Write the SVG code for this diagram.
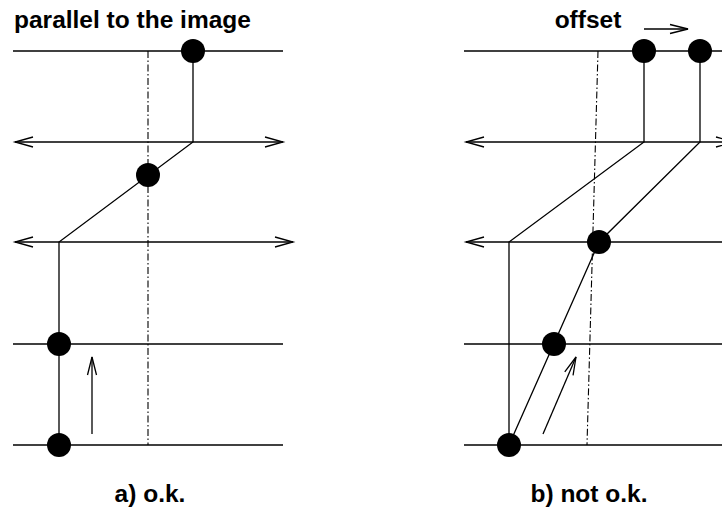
<svg xmlns="http://www.w3.org/2000/svg" width="722" height="508" viewBox="0 0 722 508">
<defs>
<style>
.ln{stroke:#000;stroke-width:1.3;fill:none}
.dd{stroke:#000;stroke-width:1.1;fill:none;stroke-dasharray:7 2.5 1.5 2.5}
.dot{fill:#000}
.lbl{font-family:"Liberation Sans",Arial,sans-serif;font-weight:bold;font-size:24.5px;fill:#000}
</style>
<marker id="ah" markerUnits="userSpaceOnUse" markerWidth="24" markerHeight="14" viewBox="-20 -7 24 14" refX="0" refY="0" orient="auto-start-reverse" overflow="visible">
<path d="M-18,-5 L0,0 L-18,5" fill="none" stroke="#000" stroke-width="1.3"/>
</marker>
<marker id="ah2" markerUnits="userSpaceOnUse" markerWidth="24" markerHeight="14" viewBox="-20 -7 24 14" refX="0" refY="0" orient="auto" overflow="visible">
<path d="M-18,-4.5 L0,0 L-18,4.5" fill="none" stroke="#000" stroke-width="1.3"/>
</marker>
</defs>
<rect width="722" height="508" fill="#fff"/>
<g id="labels">
<text class="lbl" x="14" y="28">parallel to the image</text>
<text class="lbl" x="588" y="28" text-anchor="middle">offset</text>
<text class="lbl" x="150" y="502" text-anchor="middle">a) o.k.</text>
<text class="lbl" x="589" y="502" text-anchor="middle">b) not o.k.</text>
</g>
<g id="connectors">
<!-- panel a -->
<line class="ln" x1="13" y1="51" x2="283" y2="51"/>
<line class="ln" x1="15" y1="142" x2="283" y2="142" marker-start="url(#ah)" marker-end="url(#ah)"/>
<line class="ln" x1="15" y1="242" x2="293" y2="242" marker-start="url(#ah)" marker-end="url(#ah)"/>
<line class="ln" x1="13" y1="344" x2="283" y2="344"/>
<line class="ln" x1="13" y1="445" x2="283" y2="445"/>
<line class="dd" x1="148" y1="51" x2="148" y2="445"/>
<polyline class="ln" points="193,51 193,142 59,242 59,445"/>
<line class="ln" x1="92" y1="434" x2="92" y2="357" marker-end="url(#ah2)"/>
<!-- panel b -->
<line class="ln" x1="464" y1="51" x2="734" y2="51"/>
<line class="ln" x1="466" y1="142" x2="734" y2="142" marker-start="url(#ah)" marker-end="url(#ah)"/>
<line class="ln" x1="466" y1="242" x2="744" y2="242" marker-start="url(#ah)" marker-end="url(#ah)"/>
<line class="ln" x1="464" y1="344" x2="734" y2="344"/>
<line class="ln" x1="464" y1="445" x2="734" y2="445"/>
<line class="dd" x1="598" y1="51" x2="587" y2="445"/>
<polyline class="ln" points="644,51 644,142 509,242 509,445"/>
<polyline class="ln" points="700,51 700,142 599,242 509,445"/>
<line class="ln" x1="543" y1="434" x2="576" y2="357" marker-end="url(#ah2)"/>
<line class="ln" x1="644" y1="29" x2="688" y2="29" marker-end="url(#ah2)"/>
</g>
<g id="node-a1"><circle class="dot" cx="193" cy="51" r="12"/></g>
<g id="node-a2"><circle class="dot" cx="148" cy="175" r="12"/></g>
<g id="node-a3"><circle class="dot" cx="59" cy="344" r="12"/></g>
<g id="node-a4"><circle class="dot" cx="59" cy="445" r="12"/></g>
<g id="node-b1"><circle class="dot" cx="644" cy="51" r="12"/></g>
<g id="node-b2"><circle class="dot" cx="700" cy="51" r="12"/></g>
<g id="node-b3"><circle class="dot" cx="599" cy="242" r="12"/></g>
<g id="node-b4"><circle class="dot" cx="554" cy="344" r="12"/></g>
<g id="node-b5"><circle class="dot" cx="509" cy="445" r="12"/></g>
</svg>
